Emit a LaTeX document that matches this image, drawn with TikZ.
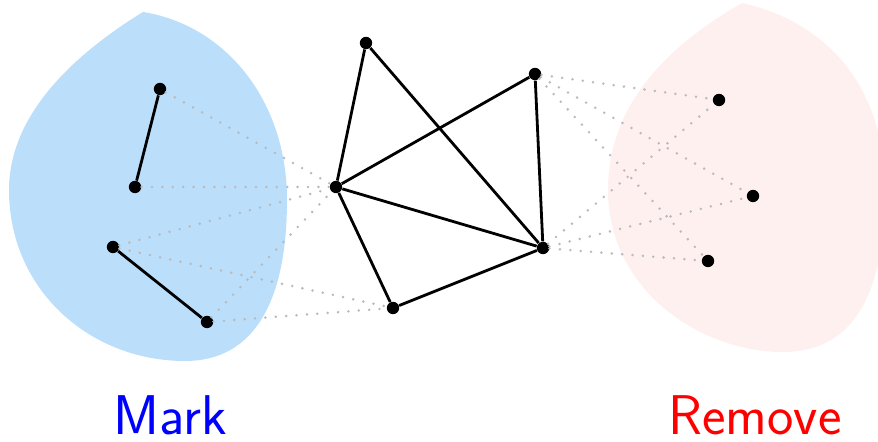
\documentclass[tikz,border=0pt]{standalone}
\usepackage{fontspec}
\begin{document}
\begin{tikzpicture}[x=0.5pt,y=-0.5pt,
  dot/.style={circle,fill=black,inner sep=0pt,minimum size=6.2pt},
  solid edge/.style={line width=1.4pt,black},
  faint/.style={line width=1.4pt,draw=black!27,line cap=round,dash pattern=on 0pt off 5.2pt},
  lbl/.style={font=\sffamily\fontsize{28}{32}\selectfont,anchor=base,inner sep=0pt}]
\definecolor{markblue}{RGB}{187,222,251}
\definecolor{rempink}{RGB}{255,240,240}
\useasboundingbox (0,0) rectangle (878,442);
\clip (0,0) rectangle (878,442);
% blobs
\fill[markblue] (143,12) .. controls (225,25) and (287,100) .. (287,200)
  .. controls (287,300) and (255,361) .. (185,361)
  .. controls (90,361) and (9,290) .. (9,190)
  .. controls (9,120) and (65,60) .. (143,12) -- cycle;
\fill[rempink] (742,3) .. controls (820,20) and (885,80) .. (885,190)
  .. controls (885,300) and (850,352) .. (783,352)
  .. controls (700,352) and (608,290) .. (608,190)
  .. controls (608,110) and (660,50) .. (742,3) -- cycle;
% nodes
\node[dot] (a1) at (160,89) {};
\node[dot] (a2) at (135,187) {};
\node[dot] (a3) at (113,247) {};
\node[dot] (a4) at (207,322) {};
\node[dot] (m1) at (366,43) {};
\node[dot] (m2) at (336,187) {};
\node[dot] (m3) at (535,74) {};
\node[dot] (m4) at (543,248) {};
\node[dot] (m5) at (393,308) {};
\node[dot] (r1) at (719,100) {};
\node[dot] (r2) at (753,196) {};
\node[dot] (r3) at (708,261) {};
% dotted connections
\foreach \u/\v in {a1/m2,a2/m2,a3/m2,a3/m5,a4/m2,a4/m5,
                   m3/r1,m3/r2,m3/r3,m4/r1,m4/r2,m4/r3}
  \draw[faint] (\u) -- (\v);
% solid edges
\foreach \u/\v in {a1/a2,a3/a4,m1/m2,m1/m4,m2/m3,m2/m4,m3/m4,m2/m5,m5/m4}
  \draw[solid edge] (\u) -- (\v);
% labels
\node[lbl,text=blue] (mark) at (170,435) {Mark};
\node[lbl,text=red] (remove) at (755,435) {Remove};
\end{tikzpicture}
\end{document}
